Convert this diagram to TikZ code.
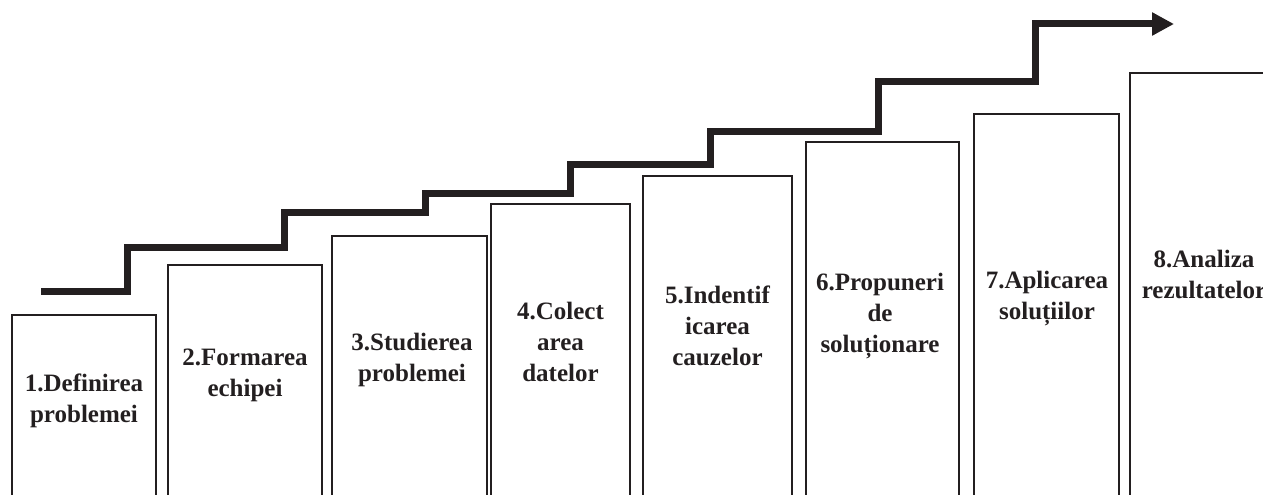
\documentclass[tikz,border=0pt]{standalone}
\usepackage{fontspec}
\setmainfont{Liberation Serif}
\usetikzlibrary{arrows.meta}
\definecolor{ink}{HTML}{231F20}
\begin{document}
\begin{tikzpicture}[x=1pt,y=-1pt,
  stepbox/.style={draw=ink,line width=2.2pt},
  steptext/.style={align=center,font=\fontsize{25}{31}\selectfont\bfseries,text=ink,inner sep=0pt},
  stair/.style={draw=ink,line width=7pt,line join=miter,-{Triangle[length=22pt,width=22pt]}}]
\useasboundingbox (0,0) rectangle (1263,495);
\clip (0,0) rectangle (1263,495);
% boxes
\draw[stepbox] (12,315) rectangle (156,510);
\draw[stepbox] (168,265) rectangle (322,510);
\draw[stepbox] (332,236) rectangle (487,510);
\draw[stepbox] (491,204) rectangle (630,510);
\draw[stepbox] (643,176) rectangle (792,510);
\draw[stepbox] (806,142) rectangle (959,510);
\draw[stepbox] (974,114) rectangle (1119,510);
\draw[stepbox] (1130,73) rectangle (1280,510);
% texts
\node[steptext] (s1) at (84,401) {1.Definirea\\problemei};
\node[steptext] (s2) at (245,375) {2.Formarea\\echipei};
\node[steptext] (s3) at (412,360) {3.Studierea\\problemei};
\node[steptext] (s4) at (560.5,342) {4.Colect\\area\\datelor};
\node[steptext] (s5) at (717.5,326) {5.Indentif\\icarea\\cauzelor};
\node[steptext] (s6) at (880,316) {6.Propuneri\\de\\soluționare};
\node[steptext] (s7) at (1047,299) {7.Aplicarea\\soluțiilor};
\node[steptext] (s8) at (1204,274) {8.Analiza\\rezultatelor};
% staircase arrow
\coordinate (p0) at (41,291);
\coordinate (p1) at (127,247);
\coordinate (p2) at (284,212);
\coordinate (p3) at (425,193);
\coordinate (p4) at (570,164);
\coordinate (p5) at (710,131);
\coordinate (p6) at (878,81);
\coordinate (p7) at (1035,24);
\coordinate (pe) at (1174,24);
\draw[stair] (p0) -| (p1) -| (p2) -| (p3) -| (p4) -| (p5) -| (p6) -| (p7) -- (pe);
\end{tikzpicture}
\end{document}
